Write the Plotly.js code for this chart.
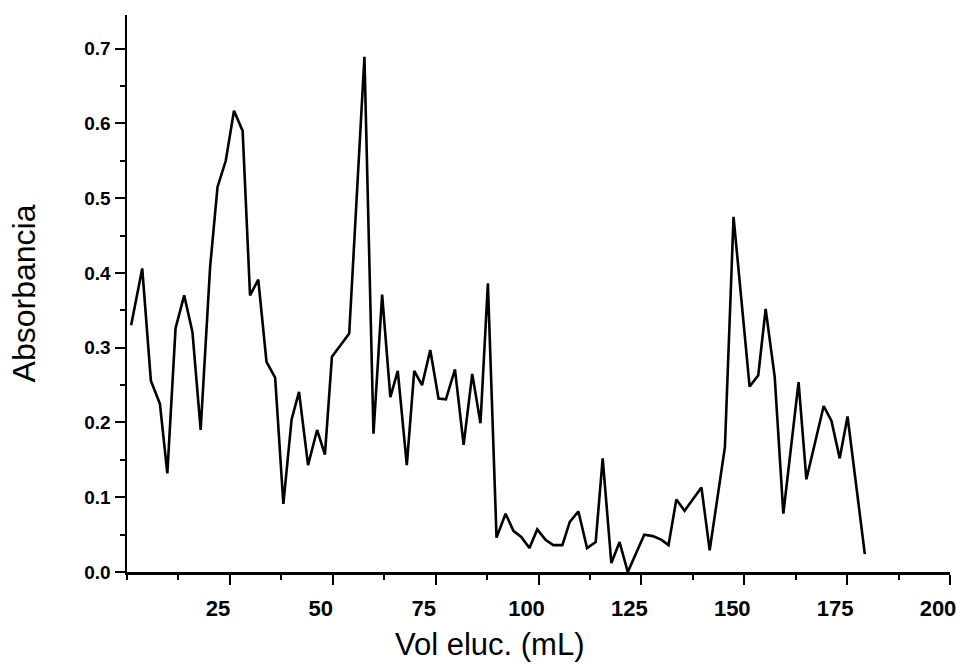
<!DOCTYPE html>
<html>
<head>
<meta charset="utf-8">
<script src="https://cdn.plot.ly/plotly-3.0.1.min.js"></script>
<style>
html,body{margin:0;padding:0;background:#fff;}
#chart{width:956px;height:665px;}
</style>
</head>
<body>
<div id="chart"></div>
<script>
// Elution volume (mL)
const volElution = [1.0, 3.7, 5.8, 8.0, 9.8, 11.8, 13.9, 15.9, 17.9, 20.2,
  22.0, 24.0, 26.0, 28.1, 29.9, 31.9, 33.9, 36.0, 38.0, 40.0,
  41.8, 44.0, 46.2, 48.1, 49.8, 54.0, 57.7, 59.9, 62.0, 64.0,
  65.8, 68.0, 69.8, 71.7, 73.7, 75.7, 77.5, 79.7, 81.8, 83.9,
  85.9, 87.7, 89.8, 92.0, 93.9, 95.8, 97.8, 99.7, 101.7, 103.6,
  105.8, 107.6, 109.7, 111.8, 113.9, 115.6, 117.7, 119.7, 121.7, 125.7,
  127.8, 129.9, 131.6, 133.5, 135.5, 139.6, 141.6, 145.3, 147.4, 151.3,
  153.4, 155.2, 157.4, 159.5, 163.2, 165.1, 169.3, 171.2, 173.2, 175.1,
  179.3];
// Absorbance
const absorbance = [0.330, 0.406, 0.256, 0.225, 0.132, 0.326, 0.370, 0.321, 0.190, 0.408,
  0.515, 0.550, 0.617, 0.590, 0.370, 0.391, 0.281, 0.260, 0.091, 0.204,
  0.241, 0.143, 0.190, 0.157, 0.288, 0.319, 0.689, 0.185, 0.371, 0.234,
  0.269, 0.143, 0.269, 0.250, 0.297, 0.232, 0.231, 0.271, 0.170, 0.265,
  0.199, 0.386, 0.046, 0.078, 0.055, 0.047, 0.032, 0.057, 0.043, 0.036,
  0.036, 0.067, 0.081, 0.032, 0.040, 0.152, 0.012, 0.040, 0.000, 0.050,
  0.048, 0.043, 0.036, 0.097, 0.082, 0.113, 0.029, 0.167, 0.475, 0.248,
  0.263, 0.352, 0.261, 0.078, 0.254, 0.124, 0.222, 0.202, 0.152, 0.208,
  0.024];
// Tick labels
const xTickVals = [25, 50, 75, 100, 125, 150, 175, 200];
const xTickText = ['25', '50', '75', '100', '125', '150', '175', '200'];
const yTickVals = [0, 0.1, 0.2, 0.3, 0.4, 0.5, 0.6, 0.7];
const yTickText = ['0.0', '0.1', '0.2', '0.3', '0.4', '0.5', '0.6', '0.7'];
const xTitle = 'Vol eluc. (mL)';
const yTitle = 'Absorbancia';

const trace = {
  x: volElution,
  y: absorbance,
  type: 'scatter',
  mode: 'lines',
  line: {color: '#000', width: 2.6},
  hoverinfo: 'x+y'
};

const layout = {
  width: 956,
  height: 665,
  margin: {l: 127, r: 6, t: 15, b: 93},
  paper_bgcolor: '#fff',
  plot_bgcolor: '#fff',
  showlegend: false,
  font: {family: 'Liberation Sans, Arial, sans-serif', color: '#000'},
  xaxis: {
    range: [0, 200],
    tickvals: xTickVals,
    ticktext: xTickText,
    showgrid: false,
    zeroline: false,
    showline: true,
    linecolor: '#000',
    linewidth: 2.5,
    ticks: 'outside',
    ticklen: 10,
    tickwidth: 2,
    tickcolor: '#000',
    ticklabeloverflow: 'allow',
    ticklabelshift: -12,
    ticklabelstandoff: 5,
    tickfont: {family: 'Liberation Sans, Arial, sans-serif', size: 22, color: '#000', weight: 'bold'},
    minor: {tick0: 0, dtick: 12.5, ticks: 'outside', ticklen: 5, tickwidth: 2, tickcolor: '#000'},
    fixedrange: true
  },
  yaxis: {
    range: [0, 0.745],
    tickvals: yTickVals,
    ticktext: yTickText,
    showgrid: false,
    zeroline: false,
    showline: true,
    linecolor: '#000',
    linewidth: 2.5,
    ticks: 'outside',
    ticklen: 10,
    tickwidth: 2,
    tickcolor: '#000',
    tickfont: {family: 'Liberation Sans, Arial, sans-serif', size: 19, color: '#000', weight: 'bold'},
    minor: {tick0: 0, dtick: 0.05, ticks: 'outside', ticklen: 5, tickwidth: 2, tickcolor: '#000'},
    title: {text: yTitle, font: {family: 'Liberation Sans, Arial, sans-serif', size: 32, color: '#000'}, standoff: 39},
    fixedrange: true
  },
  annotations: [{
    text: xTitle,
    xref: 'paper', yref: 'paper',
    x: 0.441, y: -0.131,
    xanchor: 'center', yanchor: 'middle',
    showarrow: false,
    font: {family: 'Liberation Sans, Arial, sans-serif', size: 31, color: '#000'}
  }]
};

Plotly.newPlot('chart', [trace], layout, {displayModeBar: false, staticPlot: true});
</script>
</body>
</html>
